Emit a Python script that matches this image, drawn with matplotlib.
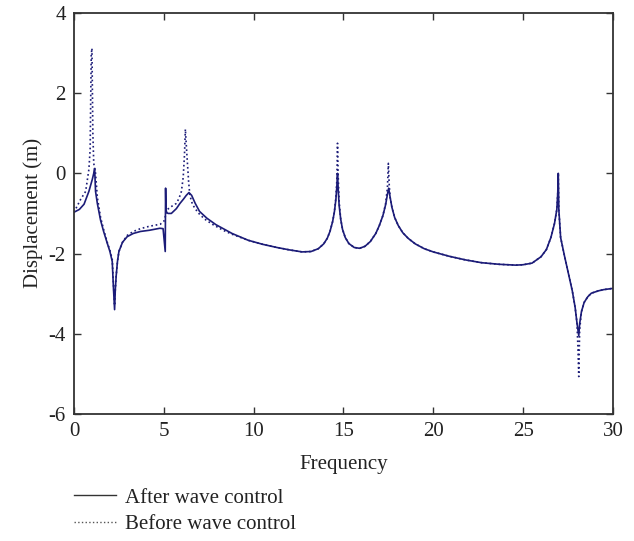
import matplotlib
matplotlib.use('Agg')
import matplotlib.pyplot as plt
from matplotlib.lines import Line2D

# "After wave control" (solid)
freq_after = [0.0, 0.3, 0.56, 0.83, 1.02, 1.1, 1.15, 1.2, 1.3, 1.48, 1.65, 1.85, 2.0,
              2.13, 2.19, 2.26, 2.3, 2.35, 2.42, 2.5, 2.7, 2.96, 3.3, 3.7, 4.2, 4.78, 4.96,
              5.08, 5.1, 5.12, 5.16, 5.24, 5.42, 5.7, 5.9, 6.1, 6.25, 6.4, 6.55, 6.75,
              6.99, 7.4, 7.9, 8.8, 9.7, 10.5, 11.3, 12.0, 12.7, 13.2, 13.6, 13.9, 14.1,
              14.25, 14.4, 14.5, 14.58, 14.63, 14.67, 14.71, 14.76, 14.85, 14.95, 15.1,
              15.3, 15.6, 15.9, 16.2, 16.5, 16.8, 17.0, 17.2, 17.35, 17.45, 17.52, 17.6,
              17.7, 17.85, 18.05, 18.3, 18.6, 19.0, 19.5, 20.0, 20.9, 21.8, 22.7, 23.7,
              24.6, 25.0, 25.5, 26.0, 26.3, 26.55, 26.75, 26.88, 26.93, 26.96, 26.99,
              27.09, 27.3, 27.5, 27.74, 27.9, 28.0, 28.1, 28.15, 28.25, 28.4, 28.6,
              28.8, 29.2, 29.5, 30.0]
disp_after = [-0.97, -0.9, -0.77, -0.45, -0.15, 0.0, 0.12, -0.45, -0.75, -1.17, -1.45, -1.74, -1.95,
              -2.2, -2.8, -3.4, -2.9, -2.55, -2.2, -1.95, -1.72, -1.58, -1.5, -1.45, -1.42, -1.37, -1.38,
              -1.95, -0.37, -0.9, -0.98, -1.0, -1.0, -0.88, -0.75, -0.64, -0.55, -0.48, -0.55, -0.75,
              -0.95, -1.12, -1.28, -1.5, -1.67, -1.77, -1.85, -1.91, -1.96, -1.95, -1.88, -1.76, -1.62,
              -1.45, -1.2, -0.95, -0.65, -0.35, 0.0, -0.4, -0.8, -1.15, -1.4, -1.6,
              -1.75, -1.85, -1.87, -1.82, -1.7, -1.5, -1.3, -1.05, -0.78, -0.52, -0.37, -0.6,
              -0.85, -1.1, -1.3, -1.48, -1.62, -1.76, -1.88, -1.96, -2.07, -2.16, -2.23, -2.27,
              -2.29, -2.28, -2.24, -2.08, -1.9, -1.6, -1.25, -0.9, -0.5, 0.0, -0.9,
              -1.6, -2.05, -2.45, -2.93, -3.35, -3.73, -4.05, -3.75, -3.45, -3.22, -3.08,
              -2.99, -2.93, -2.9, -2.87]

# "Before wave control" (dotted)
freq_before = [0.0, 0.37, 0.65, 0.83, 0.9, 0.96, 1.0, 1.05, 1.1, 1.2, 1.3, 1.48, 1.65, 1.85,
               2.0, 2.13, 2.19, 2.26, 2.3, 2.35, 2.42, 2.5, 2.7, 2.96, 3.3, 3.7, 4.2, 4.8,
               5.0, 5.2, 5.45, 5.7, 5.85, 5.98, 6.08, 6.15, 6.2, 6.28, 6.38, 6.45, 6.6,
               6.9, 7.27, 7.7, 8.3, 8.8, 9.7, 10.5, 11.3, 12.0, 12.7, 13.2, 13.6, 13.9,
               14.1, 14.25, 14.4, 14.5, 14.58, 14.63, 14.67, 14.71, 14.76, 14.85, 14.95,
               15.1, 15.3, 15.6, 15.9, 16.2, 16.5, 16.8, 17.0, 17.2, 17.35, 17.45, 17.5,
               17.55, 17.6, 17.7, 17.85, 18.05, 18.3, 18.6, 19.0, 19.5, 20.0, 20.9, 21.8,
               22.7, 23.7, 24.6, 25.0, 25.5, 26.0, 26.3, 26.55, 26.75, 26.88, 26.93,
               26.96, 26.99, 27.09, 27.3, 27.5, 27.74, 27.9, 28.0, 28.05, 28.1, 28.15,
               28.25, 28.4, 28.6, 28.8, 29.2, 29.5, 30.0]
disp_before = [-0.97, -0.65, -0.45, 0.1, 0.6, 2.96, 3.12, 1.0, 0.25, 0.0, -0.6, -1.1, -1.4, -1.72,
               -1.92, -2.15, -2.7, -3.3, -2.9, -2.55, -2.2, -1.95, -1.72, -1.55, -1.45, -1.38, -1.32, -1.27,
               -1.2, -0.9, -0.82, -0.75, -0.62, -0.45, -0.1, 0.45, 1.1, 0.5, -0.2, -0.55, -0.78,
               -0.98, -1.14, -1.27, -1.42, -1.52, -1.67, -1.77, -1.85, -1.91, -1.96, -1.95, -1.88, -1.76,
               -1.62, -1.45, -1.2, -0.95, -0.6, -0.2, 0.75, -0.1, -0.7, -1.15, -1.4,
               -1.6, -1.75, -1.85, -1.87, -1.82, -1.7, -1.5, -1.3, -1.05, -0.75, -0.35, 0.25,
               -0.3, -0.6, -0.85, -1.1, -1.3, -1.48, -1.62, -1.76, -1.88, -1.96, -2.07, -2.16,
               -2.23, -2.27, -2.29, -2.28, -2.24, -2.08, -1.9, -1.6, -1.25, -0.9, -0.5,
               0.0, -0.9, -1.6, -2.05, -2.45, -2.93, -3.35, -3.73, -4.3, -5.07, -3.9,
               -3.45, -3.22, -3.08, -2.99, -2.93, -2.9, -2.87]

x_ticks = [0, 5, 10, 15, 20, 25, 30]
y_ticks = [-6, -4, -2, 0, 2, 4]

plt.rcParams['font.family'] = ['Liberation Serif', 'DejaVu Serif']
plt.rcParams['font.size'] = 15

fig = plt.figure(figsize=(6.34, 5.41), dpi=100)
ax = fig.add_axes([0.1167, 0.235, 0.85, 0.741])

line_col = '#1c1c78'
ax.plot(freq_before, disp_before, linestyle=':', color=line_col, linewidth=1.2)
ax.plot(freq_after, disp_after, linestyle='-', color=line_col, linewidth=1.2)

ax.set_xlim(0, 30)
ax.set_ylim(-6, 4)
ax.set_xticks(x_ticks)
ax.set_yticks(y_ticks)
ax.set_yticklabels([str(v) for v in y_ticks])
ax.tick_params(direction='in', length=5, width=1, top=True, right=True,
               colors='#333333', labelcolor='#222222', pad=6)
for s in ax.spines.values():
    s.set_color('#333333')
    s.set_linewidth(1.3)

ax.set_xlabel('Frequency', color='#222222', labelpad=10)
ax.set_ylabel('Displacement (m)', color='#222222', labelpad=4)

handles = [Line2D([], [], color='#333333', linestyle='-', linewidth=1.0),
           Line2D([], [], color='#555555', linestyle=':', linewidth=1.0)]
ax.legend(handles, ['After wave control', 'Before wave control'],
          loc='upper left', bbox_to_anchor=(0.0, -0.185), frameon=False,
          borderpad=0, borderaxespad=0, handlelength=2.0, handletextpad=0.45,
          labelspacing=0.35, labelcolor='#222222')

fig.savefig('out.png', dpi=100)
